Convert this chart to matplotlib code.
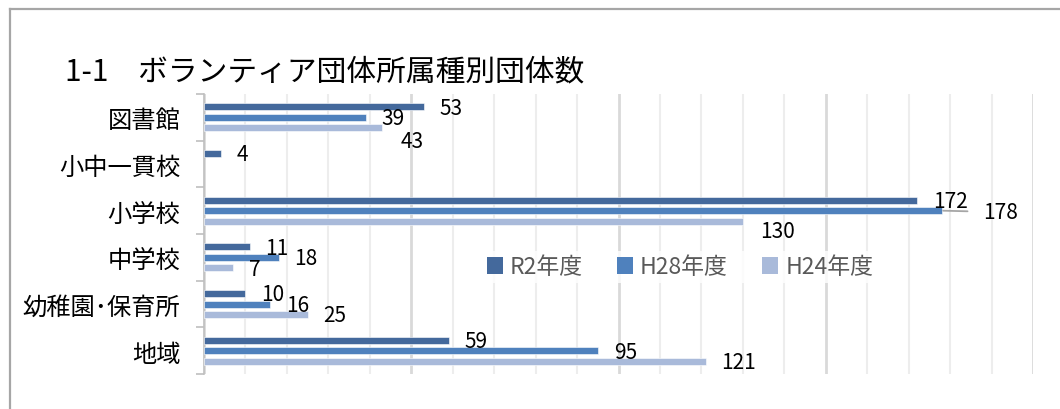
import matplotlib
matplotlib.use("Agg")
import matplotlib.pyplot as plt
from matplotlib.lines import Line2D
from matplotlib.patches import Patch
import numpy as np

plt.rcParams['font.family'] = ['Noto Sans CJK JP', 'DejaVu Sans']

TITLE = "1-1\u3000ボランティア団体所属種別団体数"
categories = ["図書館", "小中一貫校", "小学校", "中学校", "幼稚園･保育所", "地域"]
series_names = ["R2年度", "H28年度", "H24年度"]
r2 = [53, 4, 172, 11, 10, 59]
h28 = [39, None, 178, 18, 16, 95]
h24 = [43, None, 130, 7, 25, 121]

COLORS = ["#44699C", "#4F81BD", "#A9BADA"]
# label nudges (pixels) where the labels were dragged in the original
NUDGE = {(2, 0): (18, -13), (2, 2): (17, -10), (1, 2): (41, -1)}

W, H = 1060, 410
fig = plt.figure(figsize=(W / 100, H / 100), dpi=100)
ax = fig.add_axes([204 / W, 1 - 375 / H, (1033 - 204) / W, (375 - 95) / H])

y = np.arange(len(categories))
pitch, bh = 0.225, 0.15
handles = []
for si, vals in enumerate([r2, h28, h24]):
    off = (si - 1) * pitch
    for ci, v in enumerate(vals):
        if v is None:
            continue
        ax.barh(y[ci] + off, v, height=bh, color=COLORS[si],
                edgecolor="white", linewidth=0.4, zorder=3)
        dx, dy = NUDGE.get((si, ci), (16, -1))
        arrow = None
        if (si, ci) == (1, 2):
            arrow = dict(arrowstyle="-", color="#A6A6A6", lw=1.3,
                         relpos=(0, 0.5), shrinkA=9, shrinkB=1)
        ax.annotate(str(v), xy=(v, y[ci] + off), xytext=(dx, dy),
                    textcoords="offset pixels", ha="left", va="center",
                    fontsize=15, color="black", arrowprops=arrow, zorder=4)
    handles.append(Patch(facecolor=COLORS[si], edgecolor="none"))

ax.set_xlim(0, 200)
ax.set_ylim(len(categories) - 0.5, -0.5)
ax.set_xticks(np.arange(0, 201, 50))
ax.set_xticks(np.arange(0, 201, 10), minor=True)
ax.xaxis.grid(True, which="minor", color="#EDEDED", lw=1.5, zorder=0)
ax.xaxis.grid(True, which="major", color="#D9D9D9", lw=2, zorder=0)
ax.set_axisbelow(True)
ax.tick_params(axis="x", which="both", length=0, labelbottom=False)

ax.set_yticks(y)
ax.set_yticklabels(categories, fontsize=17.5)
ax.set_yticks(np.arange(-0.5, len(categories)), minor=True)
ax.tick_params(axis="y", which="major", length=0, pad=17)
ax.tick_params(axis="y", which="minor", length=6, color="#BFBFBF", width=1.2)
for s in ["top", "right", "bottom"]:
    ax.spines[s].set_visible(False)
ax.spines["left"].set_color("#BFBFBF")
ax.spines["left"].set_linewidth(1.2)

leg = fig.legend(handles, series_names, ncol=3, loc="center",
                 bbox_to_anchor=(680 / W, 1 - 268 / H), frameon=True,
                 fontsize=16.5, handlelength=0.7, handleheight=0.7,
                 handletextpad=0.3, columnspacing=1.5, borderpad=0.2)
leg.get_frame().set_facecolor("white")
leg.get_frame().set_edgecolor("none")
for t in leg.get_texts():
    t.set_color("#595959")

fig.text(65 / W, 1 - 72 / H, TITLE, fontsize=21.4, ha="left", va="center")

# outer chart border (only top and left edges are in frame)
fig.add_artist(Line2D([10 / W, 10 / W], [0, 1 - 10 / H], color="#A6A6A6", lw=1.6))
fig.add_artist(Line2D([10 / W, 1], [1 - 10 / H, 1 - 10 / H], color="#A6A6A6", lw=1.6))

fig.savefig("out.png", dpi=100, facecolor="white")
